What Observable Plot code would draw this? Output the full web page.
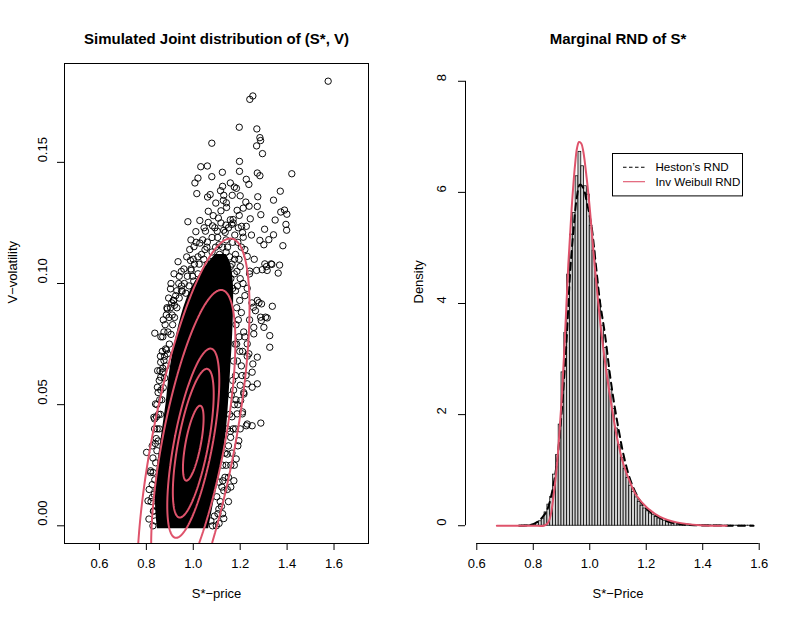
<!DOCTYPE html>
<html><head><meta charset="utf-8">
<script src="https://cdn.jsdelivr.net/npm/d3@7"></script>
<script src="https://cdn.jsdelivr.net/npm/@observablehq/plot@0.6"></script>
<style>
html,body{margin:0;padding:0;background:#fff;}
#wrap{position:relative;width:803px;height:623px;display:flex;font-family:"Liberation Sans",Arial,sans-serif;}
#legend{position:absolute;left:611.5px;top:153px;}
</style></head><body><div id="wrap"></div>
<script>
// ---------- Left panel data: simulated joint sample (S*, V) ----------
const jointSample = [
[1.575,0.1835],[1.241,0.1760],[1.254,0.1774],[1.196,0.1645],[1.271,0.1638],[1.284,0.1602],[1.287,0.1590],[1.270,0.1568],[1.295,0.1536],[1.079,0.1579],
[1.197,0.1504],[1.197,0.1463],[1.032,0.1482],[1.060,0.1485],[1.124,0.1459],[1.079,0.1441],[1.020,0.1435],[1.007,0.1415],[1.273,0.1456],[1.284,0.1445],
[1.420,0.1453],[1.226,0.1430],[1.237,0.1409],[1.158,0.1415],[1.175,0.1398],[1.184,0.1393],[1.125,0.1401],[1.116,0.1383],[1.015,0.1371],[1.061,0.1357],
[1.072,0.1367],[1.130,0.1364],[1.166,0.1364],[1.200,0.1362],[1.275,0.1358],[1.371,0.1381],[1.342,0.1344],[1.128,0.1343],[1.141,0.1333],[1.096,0.1332],
[1.224,0.1336],[1.238,0.1319],[1.273,0.1318],[1.142,0.1314],[1.187,0.1302],[1.213,0.1311],[1.064,0.1298],[1.288,0.1284],[1.373,0.1295],[1.389,0.1303],
[1.399,0.1286],[1.349,0.1262],[1.243,0.1267],[1.107,0.1270],[1.158,0.1263],[1.170,0.1264],[1.196,0.1281],[0.977,0.1255],[1.064,0.1252],[1.082,0.1238],
[1.139,0.1241],[1.164,0.1244],[1.206,0.1236],[1.226,0.1236],[1.395,0.1244],[1.398,0.1220],[1.304,0.1224],[1.011,0.1214],[1.052,0.1216],[1.102,0.1216],
[1.136,0.1211],[1.177,0.1200],[1.213,0.1191],[1.248,0.1200],[1.342,0.1201],[1.284,0.1178],[1.322,0.1181],[1.301,0.1160],[1.382,0.1156],[1.003,0.1152],
[1.028,0.1167],[1.060,0.1171],[0.949,0.1050],[0.903,0.0978],[0.953,0.0968],[0.917,0.0930],[0.889,0.0895],[0.988,0.1095],[0.991,0.1054],[1.335,0.1079],
[1.368,0.1076],[1.362,0.1043],[1.312,0.1070],[1.294,0.1057],[1.337,0.0906],[1.270,0.1054],[1.241,0.1051],[1.230,0.1112],[1.280,0.0921],[1.256,0.0902],
[1.291,0.0916],[1.308,0.0861],[1.290,0.0847],[1.326,0.0785],[1.326,0.0737],[1.258,0.0819],[1.251,0.0413],[1.226,0.0413],[1.288,0.0424],[0.836,0.0795],
[0.801,0.0303],[0.807,0.0103],[0.811,0.0028],[0.888,0.0900],[0.903,0.0900],[0.886,0.0726],[0.861,0.0675],[0.868,0.0634],[0.835,0.0441],[1.183,0.0276],
[1.126,0.0186],[1.109,0.0069],[1.209,0.0462],[1.202,0.0517],[1.230,0.0586],[1.251,0.0634],[1.251,0.0572],[1.254,0.0668],[1.237,0.0710],[1.230,0.0751],
[0.915,0.0930],[0.882,0.0730],[0.875,0.0682],[1.301,0.0819],[1.273,0.0930],[1.265,0.0888],[1.287,0.0861],[1.258,0.0792],[1.273,0.0696],[1.315,0.0858],
[1.305,0.1081],[1.332,0.1081],[1.315,0.1054],[0.832,0.0448],[0.839,0.0503],[0.847,0.0572],[0.861,0.0613],[0.825,0.0117],[0.832,0.0062],[0.818,0.0227],
[1.273,0.0586],[1.230,0.0420],[1.194,0.0351],[1.173,0.0186],[1.130,0.0145],[1.216,0.0544],[1.187,0.0462],[1.159,0.0365],[1.145,0.0296],
[0.838,0.0020],[0.830,0.0060],[0.833,0.0130],[0.836,0.0190],[0.840,0.0260],[0.845,0.0310],[0.850,0.0350],[0.855,0.0400],[0.860,0.0460],[0.866,0.0520],
[0.872,0.0570],[0.878,0.0610],[0.884,0.0660],[0.890,0.0710],[0.898,0.0750],[0.905,0.0790],[0.912,0.0830],[0.920,0.0860],[0.930,0.0900],[0.940,0.0940],
[0.950,0.0970],[0.962,0.1000],[0.975,0.1030],[0.990,0.1060],[1.005,0.1080],[1.020,0.1110],[1.035,0.1120],[1.050,0.1140],
[0.820,0.0100],[0.825,0.0170],[0.828,0.0280],[0.843,0.0450],[0.850,0.0550],[0.858,0.0640],[0.868,0.0720],[0.875,0.0800],[0.885,0.0870],[0.895,0.0940],
[0.905,0.1000],[0.918,0.1040],[0.935,0.1090],
[1.075,0.0020],[1.090,0.0040],[1.100,0.0120],[1.110,0.0180],[1.125,0.0250],[1.135,0.0300],[1.145,0.0400],[1.155,0.0460],[1.162,0.0540],[1.168,0.0600],
[1.172,0.0680],[1.178,0.0750],[1.182,0.0830],[1.185,0.0900],[1.180,0.0970],[1.175,0.1040],[1.165,0.1080],[1.155,0.1110],[1.140,0.1130],[1.125,0.1150],
[1.110,0.1160],[1.095,0.1150],[1.080,0.1130],
[1.120,0.0080],[1.150,0.0200],[1.165,0.0300],[1.180,0.0400],[1.190,0.0500],[1.200,0.0580],[1.205,0.0660],[1.210,0.0720],[1.215,0.0800],[1.205,0.0880],
[1.220,0.0950],[1.200,0.1020],[1.195,0.1100],[1.190,0.1170],
[1.000,0.1100],[1.020,0.1040],[1.040,0.1180],[1.060,0.1080],[1.080,0.1190],[1.100,0.1100],[1.120,0.1060],[1.140,0.1180],[1.160,0.1020],[1.180,0.1120],
[1.200,0.1070],[1.220,0.1140],[1.240,0.1040],[1.260,0.1100],[0.990,0.1180],[1.050,0.1020],[1.130,0.1220],[1.170,0.1250],[1.210,0.1210],[1.010,0.0980],
[1.070,0.0970],[1.230,0.0980],[1.250,0.0920],[1.240,0.0850],[1.220,0.0780],[1.230,0.0700],[1.225,0.0620],[1.215,0.0550],[1.210,0.0470],[1.200,0.0400],
[1.190,0.0330],[1.175,0.0250],[1.160,0.0160],[1.150,0.0100],[1.130,0.0030],[1.110,0.0010],
[0.950,0.0990],[0.940,0.1030],[0.930,0.0970],[0.920,0.0910],[0.910,0.0870],[0.880,0.0830],[0.870,0.0780],[0.860,0.0700],[0.855,0.0600],[0.845,0.0500],
[0.835,0.0400],[0.825,0.0330],[0.818,0.0220],[0.812,0.0150],
[0.960,0.1060],[0.972,0.1110],[0.985,0.1140],[0.997,0.1030],[1.012,0.1170],[1.025,0.1080],[1.038,0.1030],[1.045,0.1100],[1.058,0.1150],[1.066,0.1030],
[1.075,0.1090],[1.088,0.1050],[1.092,0.1230],[1.104,0.1190],[1.112,0.1120],[1.118,0.1250],[1.132,0.1100],[1.146,0.1150],[1.150,0.1230],[1.158,0.1070],
[1.168,0.1170],[1.176,0.1100],[1.186,0.1050],[1.192,0.1230],[1.205,0.1150],[1.212,0.1000],[1.046,0.1230],[1.028,0.1260],[1.085,0.1280],[1.118,0.1300],
[0.968,0.0960],[0.982,0.0990],[1.002,0.1010],[1.032,0.0990],[1.090,0.1000],[1.134,0.1040],
[0.842,0.0080],[0.828,0.0000],[0.845,0.0150],[0.829,0.0220],[0.838,0.0340],[0.846,0.0400],[0.852,0.0460],[0.848,0.0640],[0.862,0.0560],[0.870,0.0650],
[0.878,0.0700],[0.872,0.0850],[0.892,0.0800],[0.897,0.0860],[0.908,0.0920],[0.925,0.0950],[0.938,0.1000],[0.862,0.0780],[0.857,0.0520],[0.842,0.0360],
[1.082,0.0000],[1.098,0.0000],[1.105,0.0050],[1.115,0.0100],[1.122,0.0160],[1.135,0.0200],[1.140,0.0250],[1.150,0.0330],[1.158,0.0390],[1.165,0.0450],
[1.175,0.0500],[1.172,0.0560],[1.180,0.0620],[1.188,0.0680],[1.185,0.0750],[1.195,0.0780],[1.192,0.0850],[1.198,0.0930],[1.188,0.0990],[1.168,0.0980],
[1.208,0.0620],[1.198,0.0720],[1.182,0.0520],[1.170,0.0400],[1.160,0.0250],[1.145,0.0150],[1.125,0.0050]
];
// solid (overplotted) core of the sample: V level, left and right S* edge
const coreV     = [-0.0012, 0.0091, 0.0227, 0.0365, 0.0504, 0.0640, 0.0793, 0.0930, 0.1010, 0.1080, 0.1120];
const coreLeft  = [0.847, 0.839, 0.845, 0.864, 0.884, 0.900, 0.930, 0.970, 1.010, 1.060, 1.095];
const coreRight = [1.066, 1.086, 1.116, 1.138, 1.150, 1.159, 1.168, 1.172, 1.170, 1.160, 1.140];
// fitted bivariate density: mean, sd, correlation and contour levels (Mahalanobis radius)
const fitMean = [1.0, 0.0341];
const fitSd = [0.044, 0.0155];
const fitRho = 0.66;
const contourLevels = [1, 1.98, 2.52, 4.08, 5.45];
const leftXTicks = [0.6, 0.8, 1.0, 1.2, 1.4, 1.6];
const leftYTicks = [0, 0.05, 0.10, 0.15];

// ---------- Right panel data: histogram and RND curves ----------
const histLo = [0.75,0.76,0.77,0.78,0.79,0.80,0.81,0.82,0.83,0.84,0.85,0.86,0.87,0.88,0.89,0.90,0.91,0.92,0.93,0.94,
0.95,0.96,0.97,0.98,0.99,1.00,1.01,1.02,1.03,1.04,1.05,1.06,1.07,1.08,1.09,1.10,1.11,1.12,1.13,1.14,
1.15,1.16,1.17,1.18,1.19,1.20,1.21,1.22,1.23,1.24,1.25,1.26,1.27,1.28,1.29,1.30,1.31,1.32,1.33,1.34,
1.35,1.36,1.37,1.38,1.39,1.40,1.41,1.42,1.43,1.44,1.45,1.46,1.47,1.48,1.49,1.50,1.51,1.52,1.53,1.54,
1.55,1.56,1.57];
const histDensity = [0.002,0.003,0.004,0.006,0.010,0.020,0.050,0.080,0.130,0.240,0.380,0.520,0.920,1.270,1.820,2.760,3.470,4.520,5.240,5.630,
6.290,6.730,6.470,6.110,5.960,5.400,4.950,4.450,4.050,3.600,3.200,2.800,2.450,2.100,1.750,1.450,1.220,1.020,0.860,0.720,
0.610,0.510,0.430,0.360,0.310,0.260,0.220,0.190,0.160,0.130,0.110,0.090,0.075,0.065,0.055,0.045,0.038,0.032,0.027,0.022,
0.018,0.015,0.012,0.010,0.008,0.007,0.006,0.005,0.004,0.004,0.003,0.003,0.002,0.002,0.002,0.001,0.001,0.001,0.001,0.001,
0.001,0.001,0.001];
const binWidth = 0.01;
const hestonX = [0.75,0.78,0.80,0.82,0.835,0.848,0.865,0.883,0.895,0.907,0.919,0.930,0.942,0.954,0.965,0.977,0.989,1.007,1.019,1.036,
1.054,1.072,1.088,1.103,1.119,1.137,1.154,1.178,1.200,1.225,1.250,1.273,1.300,1.331,1.370,1.420,1.500,1.580];
const hestonD = [0,0.005,0.03,0.09,0.17,0.27,0.57,1.11,1.71,2.49,3.44,4.52,5.30,5.90,6.14,6.08,5.84,5.36,4.82,4.04,
3.44,2.70,2.15,1.71,1.29,0.93,0.69,0.45,0.31,0.21,0.14,0.08,0.045,0.02,0.01,0.004,0.001,0];
const weibullX = [0.671,0.800,0.840,0.853,0.862,0.871,0.880,0.889,0.901,0.913,0.924,0.936,0.948,0.955,0.962,0.970,0.977,0.989,1.001,1.013,
1.025,1.042,1.060,1.078,1.096,1.119,1.143,1.166,1.202,1.249,1.308,1.390,1.485];
const weibullD = [0,0,0.005,0.06,0.2,0.51,0.9,1.41,2.31,3.50,4.70,5.72,6.50,6.80,6.906,6.88,6.74,6.26,5.66,4.94,
4.28,3.44,2.73,2.13,1.60,1.11,0.78,0.54,0.33,0.16,0.06,0.01,0];
const rightXTicks = [0.6, 0.8, 1.0, 1.2, 1.4, 1.6];
const rightYTicks = [0, 2, 4, 6, 8];

const RED = "#DF536B";
const FONT = "Liberation Sans, Arial, Helvetica, sans-serif";

// ---------- Left panel ----------
const core = coreV.map((v, i) => ({v, l: coreLeft[i], r: coreRight[i]}));
function mahal(x, y) {
  const u = (x - fitMean[0]) / fitSd[0], v = (y - fitMean[1]) / fitSd[1];
  return Math.sqrt((u * u - 2 * fitRho * u * v + v * v) / (1 - fitRho * fitRho));
}
const xDomL = [0.451, 1.747], yDomL = [-0.0073, 0.1908];
const left = Plot.plot({
  width: 401, height: 623,
  marginLeft: 64, marginRight: 33, marginTop: 63, marginBottom: 80,
  style: {fontFamily: FONT, fontSize: "13px", background: "white", overflow: "visible"},
  x: {domain: xDomL, axis: null},
  y: {domain: yDomL, axis: null},
  marks: [
    Plot.areaX(core, {y: "v", x1: "l", x2: "r", fill: "black", curve: "catmull-rom"}),
    Plot.dot(jointSample, {x: d => d[0], y: d => d[1], r: 3.2, stroke: "black", strokeWidth: 0.95, fill: "none"}),
    Plot.contour({
      x1: 0.40, x2: 1.80, y1: -0.09, y2: 0.20,
      value: (x, y) => -mahal(x, y),
      thresholds: contourLevels.map(r => -r).sort((a, b) => a - b),
      pixelSize: 1,
      stroke: RED, fill: "none", strokeWidth: 2, clip: true
    }),
    Plot.frame({stroke: "black", strokeWidth: 1}),
    Plot.axisX({ticks: leftXTicks, tickSize: 7, tickFormat: () => "", label: null}),
    Plot.axisY({ticks: leftYTicks, tickSize: 7, tickFormat: () => "", label: null}),
    Plot.text(leftXTicks, {x: d => d, text: d => d.toFixed(1), frameAnchor: "bottom", dy: 24, fontSize: 13}),
    Plot.text(leftYTicks, {y: d => d, text: d => d.toFixed(2), frameAnchor: "left", dx: -22, rotate: -90, fontSize: 13}),
    Plot.text(["S*\u2212price"], {frameAnchor: "bottom", dy: 54.7, fontSize: 13}),
    Plot.text(["V\u2212volatility"], {frameAnchor: "left", dx: -52, rotate: -90, fontSize: 13}),
    Plot.text(["Simulated Joint distribution of (S*, V)"], {frameAnchor: "top", dy: -30.3, fontSize: 15, fontWeight: "bold"})
  ]
});

// ---------- Right panel ----------
const bins = histLo.map((x0, i) => ({x1: x0, x2: x0 + binWidth, h: histDensity[i]}));
const heston = hestonX.map((x, i) => ({x, d: hestonD[i]}));
const weib = weibullX.map((x, i) => ({x, d: weibullD[i]}));
const xDomR = [0.56, 1.64], yDomR = [-0.32, 8.32];
const right = Plot.plot({
  width: 402, height: 623,
  marginLeft: 64, marginRight: 33, marginTop: 63, marginBottom: 80,
  style: {fontFamily: FONT, fontSize: "13px", background: "white", overflow: "visible"},
  x: {domain: xDomR, axis: null},
  y: {domain: yDomR, axis: null},
  marks: [
    Plot.rectY(bins, {x1: "x1", x2: "x2", y: "h", fill: "#D3D3D3", stroke: "black", strokeWidth: 0.75}),
    Plot.line(heston, {x: "x", y: "d", stroke: "black", strokeWidth: 2, strokeDasharray: "7,5", curve: "catmull-rom"}),
    Plot.line(weib, {x: "x", y: "d", stroke: RED, strokeWidth: 2, curve: "catmull-rom"}),
    Plot.ruleY([yDomR[0]], {x1: rightXTicks[0], x2: rightXTicks[rightXTicks.length - 1], stroke: "black"}),
    Plot.ruleX([xDomR[0]], {y1: rightYTicks[0], y2: rightYTicks[rightYTicks.length - 1], stroke: "black"}),
    Plot.axisX({ticks: rightXTicks, tickSize: 7, tickFormat: () => "", label: null}),
    Plot.axisY({ticks: rightYTicks, tickSize: 7, tickFormat: () => "", label: null}),
    Plot.text(rightXTicks, {x: d => d, text: d => d.toFixed(1), frameAnchor: "bottom", dy: 24, fontSize: 13}),
    Plot.text(rightYTicks, {y: d => d, text: d => String(d), frameAnchor: "left", dx: -23.3, rotate: -90, fontSize: 13}),
    Plot.text(["S*\u2212Price"], {frameAnchor: "bottom", dy: 54.7, fontSize: 13}),
    Plot.text(["Density"], {frameAnchor: "left", dx: -46.7, rotate: -90, fontSize: 13}),
    Plot.text(["Marginal RND of S*"], {frameAnchor: "top", dy: -30.3, fontSize: 15, fontWeight: "bold"})
  ]
});

const wrap = document.getElementById("wrap");
wrap.appendChild(left);
wrap.appendChild(right);

// ---------- Legend ----------
const legendItems = [
  {label: "Heston\u2019s RND", stroke: "black", dash: "3.5,2.5"},
  {label: "Inv Weibull RND", stroke: RED, dash: null}
];
const lg = d3.create("svg").attr("id", "legend").attr("width", 132).attr("height", 44)
  .style("font-family", FONT).style("font-size", "11.6px");
lg.append("rect").attr("x", 0.5).attr("y", 0.5).attr("width", 130).attr("height", 42.4)
  .attr("fill", "white").attr("stroke", "black").attr("stroke-width", 1);
legendItems.forEach((it, i) => {
  const yy = 14.3 + i * 14.4;
  lg.append("line").attr("x1", 11).attr("x2", 33).attr("y1", yy).attr("y2", yy)
    .attr("stroke", it.stroke).attr("stroke-width", 1.1).attr("stroke-dasharray", it.dash);
  lg.append("text").attr("x", 43.5).attr("y", yy).attr("dy", "0.35em").text(it.label);
});
wrap.appendChild(lg.node());
</script></body></html>
